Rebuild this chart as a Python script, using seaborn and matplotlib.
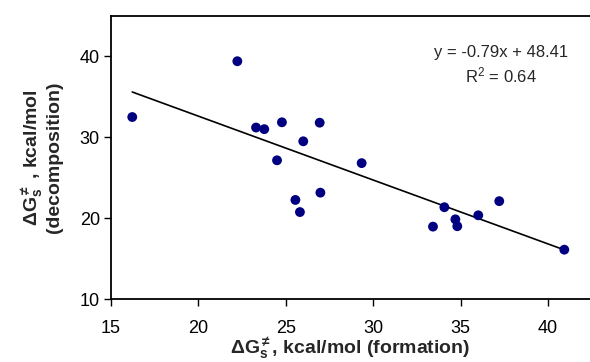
import matplotlib
matplotlib.use("Agg")
import matplotlib.pyplot as plt
import numpy as np
import pandas as pd
import seaborn as sns

# data
formation = [16.22, 22.23, 23.30, 23.77, 24.78, 26.94, 26.00, 24.50, 26.98, 25.55,
             25.81, 29.34, 34.07, 33.42, 34.70, 34.81, 36.01, 37.21, 40.93]
decomposition = [32.5, 39.4, 31.2, 31.0, 31.85, 31.8, 29.5, 27.15, 23.15, 22.25,
                 20.75, 26.8, 21.35, 18.95, 19.85, 19.0, 20.35, 22.1, 16.1]
slope, intercept, r2 = -0.79, 48.41, 0.64
x_ticks = [15, 20, 25, 30, 35, 40]
y_ticks = [10, 20, 30, 40]

sns.set_style("white")
plt.rcParams.update(
    {
        "font.family": ["Liberation Sans", "DejaVu Sans"],
        "mathtext.fontset": "custom",
        "mathtext.rm": "Liberation Sans",
        "mathtext.it": "Liberation Sans:italic",
        "mathtext.bf": "Liberation Sans:bold",
        "axes.unicode_minus": False,
    }
)

df = pd.DataFrame({"formation": formation, "decomposition": decomposition})
line_x = np.array([min(formation), max(formation)])
line_df = pd.DataFrame({"x": line_x, "y": slope * line_x + intercept})

fig = plt.figure(figsize=(5.9, 3.62), dpi=100)
ax = fig.add_axes([0.188, 0.174, 0.812, 0.782])

sns.lineplot(data=line_df, x="x", y="y", ax=ax, color="black", linewidth=1.2)
sns.scatterplot(
    data=df, x="formation", y="decomposition", ax=ax,
    color="#000080", s=50, edgecolor="none", zorder=3,
)

ax.set_xlim(15, 42.4)
ax.set_ylim(10, 45)
ax.set_xticks(x_ticks)
ax.set_yticks(y_ticks)
ax.tick_params(axis="both", direction="out", length=5, width=1, labelsize=13,
               colors="black", bottom=True, left=True)
ax.tick_params(axis="x", pad=10)
ax.tick_params(axis="y", pad=3)

for side in ["left", "bottom", "top"]:
    ax.spines[side].set_color("black")
    ax.spines[side].set_linewidth(1.3)
ax.spines["right"].set_visible(False)

ax.set_xlabel(r"$\mathbf{\Delta G_s^{\neq}}$, kcal/mol (formation)",
              fontsize=14, fontweight="bold", labelpad=-1)
ax.set_ylabel("$\\mathbf{\\Delta G_s^{\\neq}}$ , kcal/mol\n(decomposition)",
              fontsize=14, fontweight="bold", labelpad=12, linespacing=1.1)

ax.text(37.3, 40.5, f"y = {slope:.2f}x + {intercept:.2f}", ha="center",
        va="center", fontsize=12)
ax.text(37.3, 37.7, f"R$^2$ = {r2:.2f}", ha="center", va="center", fontsize=12)

fig.savefig("out.png", dpi=100)
